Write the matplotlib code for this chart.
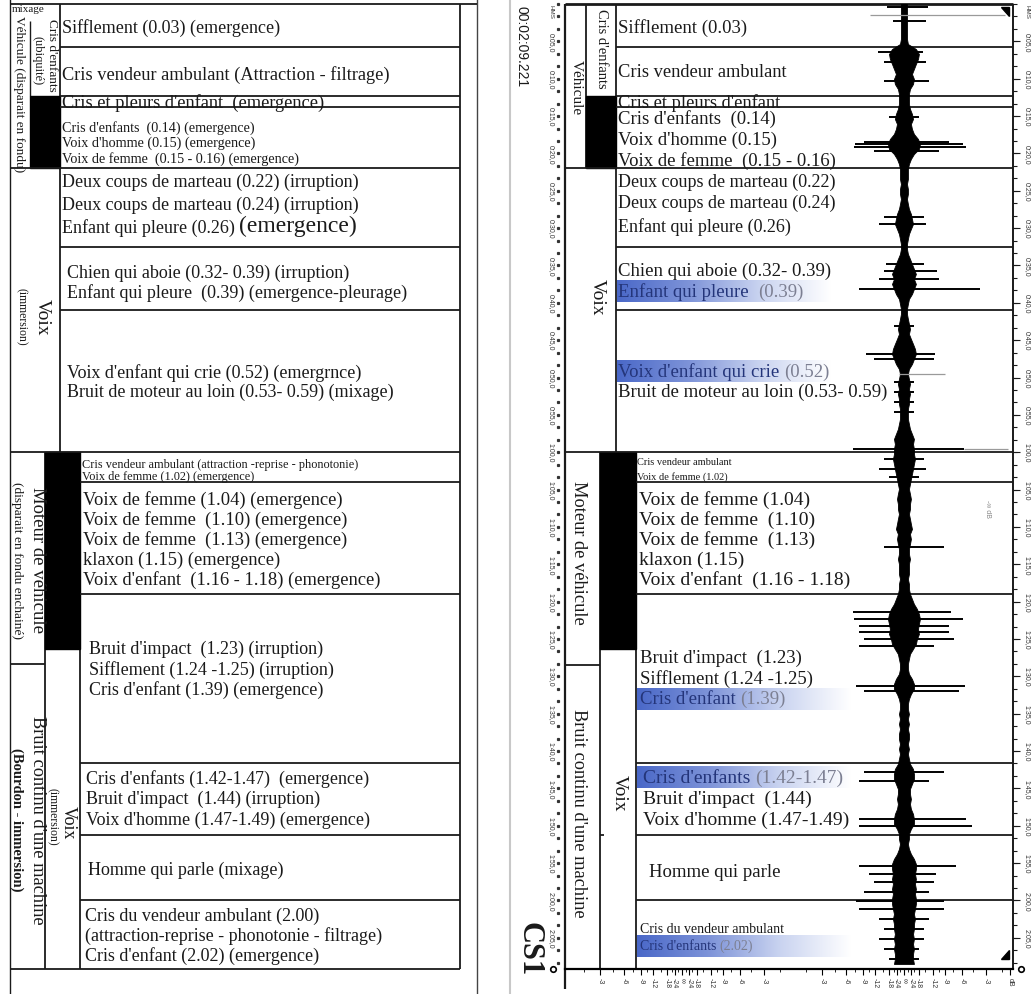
import numpy as np
import matplotlib
matplotlib.use("Agg")
import matplotlib.pyplot as plt
from matplotlib.patches import Rectangle, Polygon
from matplotlib.colors import LinearSegmentedColormap

plt.rcParams['font.family'] = ['Liberation Serif', 'DejaVu Serif']

# --- data -------------------------------------------------------------
duration = 129.2   # 00:02:09.221
bounds = [0, 5.8, 12.3, 13.8, 22, 32.5, 41, 60, 64, 79, 101.6, 111.3, 120, 129.2]
group_bounds = [0, 22, 60, 129.2]
black_top = (12.3, 22)
black_bottom = (60, 86.3)
moteur_end = 88.3

left_rows = [
    ["Sifflement (0.03) (emergence)"],
    ["Cris vendeur ambulant (Attraction - filtrage)"],
    ["Cris et pleurs d'enfant  (emergence)"],
    ["Cris d'enfants  (0.14) (emergence)", "Voix d'homme (0.15) (emergence)",
     "Voix de femme  (0.15 - 0.16) (emergence)"],
    ["Deux coups de marteau (0.22) (irruption)", "Deux coups de marteau (0.24) (irruption)",
     "Enfant qui pleure (0.26) (emergence)"],
    ["Chien qui aboie (0.32- 0.39) (irruption)", "Enfant qui pleure  (0.39) (emergence-pleurage)"],
    ["Voix d'enfant qui crie (0.52) (emergrnce)", "Bruit de moteur au loin (0.53- 0.59) (mixage)"],
    ["Cris vendeur ambulant (attraction -reprise - phonotonie)", "Voix de femme (1.02) (emergence)"],
    ["Voix de femme (1.04) (emergence)", "Voix de femme  (1.10) (emergence)",
     "Voix de femme  (1.13) (emergence)", "klaxon (1.15) (emergence)",
     "Voix d'enfant  (1.16 - 1.18) (emergence)"],
    ["Bruit d'impact  (1.23) (irruption)", "Sifflement (1.24 -1.25) (irruption)",
     "Cris d'enfant (1.39) (emergence)"],
    ["Cris d'enfants (1.42-1.47)  (emergence)", "Bruit d'impact  (1.44) (irruption)",
     "Voix d'homme (1.47-1.49) (emergence)"],
    ["Homme qui parle (mixage)"],
    ["Cris du vendeur ambulant (2.00)", "(attraction-reprise - phonotonie - filtrage)",
     "Cris d'enfant (2.02) (emergence)"],
]

right_rows = [
    ["Sifflement (0.03)"],
    ["Cris vendeur ambulant"],
    ["Cris et pleurs d'enfant"],
    ["Cris d'enfants  (0.14)", "Voix d'homme (0.15)", "Voix de femme  (0.15 - 0.16)"],
    ["Deux coups de marteau (0.22)", "Deux coups de marteau (0.24)", "Enfant qui pleure (0.26)"],
    ["Chien qui aboie (0.32- 0.39)", "Enfant qui pleure  (0.39)"],
    ["Voix d'enfant qui crie (0.52)", "Bruit de moteur au loin (0.53- 0.59)"],
    ["Cris vendeur ambulant", "Voix de femme (1.02)"],
    ["Voix de femme (1.04)", "Voix de femme  (1.10)", "Voix de femme  (1.13)",
     "klaxon (1.15)", "Voix d'enfant  (1.16 - 1.18)"],
    ["Bruit d'impact  (1.23)", "Sifflement (1.24 -1.25)", "Cris d'enfant (1.39)"],
    ["Cris d'enfants (1.42-1.47)", "Bruit d'impact  (1.44)", "Voix d'homme (1.47-1.49)"],
    ["Homme qui parle"],
    ["Cris du vendeur ambulant", "Cris d'enfants (2.02)"],
]
highlighted = [(5, 1), (6, 0), (9, 2), (10, 0), (12, 1)]

# waveform envelope (per-mille of full scale), one value every 0.67 s
env_dt = 0.6694
wave_env = [26, 26, 26, 26, 26, 26, 26, 26, 34, 103,
            129, 121, 103, 86, 69, 86, 78, 52, 43, 43,
            43, 52, 69, 78, 60, 69, 86, 121, 138, 129,
            86, 60, 43, 34, 34, 34, 26, 34, 34, 26,
            34, 43, 60, 69, 78, 60, 43, 34, 26, 26,
            34, 52, 69, 86, 103, 86, 103, 86, 69, 43,
            34, 26, 26, 34, 43, 52, 43, 60, 78, 95,
            103, 86, 69, 43, 34, 43, 52, 43, 52, 43,
            43, 34, 34, 34, 43, 52, 69, 86, 78, 86,
            86, 95, 86, 78, 69, 60, 52, 43, 52, 60,
            52, 52, 43, 52, 60, 69, 52, 60, 52, 43,
            43, 52, 43, 43, 43, 34, 43, 43, 52, 69,
            86, 112, 129, 138, 129, 121, 129, 112, 103, 78,
            52, 43, 34, 34, 43, 69, 86, 86, 60, 43,
            34, 34, 43, 34, 43, 34, 43, 43, 34, 43,
            34, 43, 52, 78, 86, 86, 69, 52, 52, 60,
            52, 60, 78, 86, 86, 60, 43, 43, 34, 43,
            60, 86, 103, 103, 95, 103, 95, 103, 95, 103,
            103, 95, 86, 95, 86, 86, 78, 86, 78, 86,
            78, 78, 86]

# peaks: time (s), negative / positive excursion (per-mille)
spike_t = [0.4, 2.3, 6.4, 7.8, 10.3, 15.1, 18.5, 18.7, 19.1, 19.7, 28.5, 29.5,
           34.8, 35.7, 36.8, 38.2, 43.1, 46.8, 47.5, 50.6, 51.9, 53.3, 54.6, 59.6,
           60.9, 62.2, 63.3, 72.7, 81.4, 82.3, 83.3, 84.1, 85.0, 85.9, 91.3, 92.0,
           102.8, 104.0, 109.1, 110.0, 115.4, 116.5, 117.5, 118.9, 120.1, 121.2,
           122.5, 123.8, 125.2, 126.5, 127.8]
spike_lo = [147, 95, 224, 172, 172, 129, 345, 422, 431, 259, 172, 216,
            155, 172, 216, 388, 86, 328, 259, 86, 86, 86, 86, 440,
            172, 216, 129, 172, 440, 431, 388, 388, 345, 388, 414, 345,
            345, 388, 388, 388, 388, 302, 259, 345, 414, 388,
            216, 172, 216, 172, 129]
spike_hi = [207, 190, 164, 190, 216, 129, 388, 509, 534, 302, 172, 190,
            172, 284, 302, 655, 86, 267, 259, 86, 86, 86, 86, 517,
            172, 190, 129, 345, 405, 509, 388, 388, 431, 259, 526, 474,
            345, 216, 534, 586, 448, 276, 259, 216, 345, 345,
            216, 172, 172, 129, 129]
# faint grey traces
grey_t = [1.5, 49.5, 59.6]
grey_lo = [-290, -40, 517]
grey_hi = [870, 350, 897]

db_marks = [-3, -6, -9, -12, -18, -24]
db_minor = [-1.5, -4.5, -7.5, -10.5, -15, -21, -30]
ruler_times = list(range(5, 126, 5))

# --- figure ----------------------------------------------------------
W, H = 1035, 995
fig = plt.figure(figsize=(W / 100, H / 100), dpi=100)
ax = fig.add_axes([0, 0, 1, 1])
ax.axis('off')
T_TOP, T_BOT = -0.67, 132.53
INK = '#1a1a1a'
SANS = ['Liberation Sans', 'DejaVu Sans']


def hl(t, x0, x1, lw=1.3, color=INK):
    ax.plot([x0, x1], [t, t], color=color, lw=lw, solid_capstyle='butt', zorder=3)


def vl(x, t0, t1, lw=1.3, color=INK):
    ax.plot([x, x], [t0, t1], color=color, lw=lw, solid_capstyle='butt', zorder=3)


def block(x0, x1, span):
    ax.add_patch(Rectangle((x0, span[0]), x1 - x0, span[1] - span[0],
                           facecolor='black', edgecolor='black', zorder=3))


def vtext(x, t, s, fs, **kw):
    ax.text(x, t, s, rotation=-90, ha='center', va='center', fontsize=fs,
            color=INK, rotation_mode='anchor', zorder=4, **kw)


# ---------------- left panel ----------------
vl(10, T_TOP, T_BOT, lw=1.0)
vl(477, T_TOP, T_BOT, lw=1.0, color='#444')
hl(0, 10, 477, lw=1.3)
vl(460, 0, duration)
vl(60, 0, 60)
vl(30, 2.3, black_top[0], lw=1.0)
block(30, 60, black_top)
vl(45, 60, duration)
vl(80, 60, duration)
block(45, 80, black_bottom)
hl(moteur_end, 10, 45)
for b in bounds[1:]:
    if b in group_bounds:
        hl(b, 10, 460)
    elif b < 60:
        hl(b, 60, 460)
    else:
        hl(b, 80, 460)

left_x = [62, 62, 62, 62, 62, 67, 67, 82, 83, 89, 86, 88, 85]
left_y = [[3.1], [9.4], [13.1], [16.5, 18.5, 20.6], [23.8, 26.8, 29.85],
          [35.9, 38.55], [49.3, 51.9], [61.6, 63.2],
          [66.3, 68.9, 71.6, 74.3, 77.0], [86.3, 89.0, 91.7],
          [103.6, 106.4, 109.2], [115.8], [122.0, 124.6, 127.3]]
left_fs = [13, 13.2, 13.2, 10.2, 13, 13, 13, 8.8, 13.3, 13, 13, 13, 13]

for i, lines in enumerate(left_rows):
    for j, s in enumerate(lines):
        y = left_y[i][j]
        if (i, j) == (4, 2):
            head, tail = s.rsplit(' (', 1)
            t1 = ax.text(left_x[i], y, head + ' ', fontsize=left_fs[i], va='center',
                         ha='left', color=INK, zorder=4)
            ax.annotate('(' + tail, xy=(1, 0), xycoords=t1, va='bottom', ha='left',
                        fontsize=17, color=INK, zorder=4)
        else:
            ax.text(left_x[i], y, s, fontsize=left_fs[i], va='center', ha='left',
                    color=INK, zorder=4)

ax.text(12, 0.65, 'mixage', fontsize=8, va='center', ha='left', color=INK)
vtext(19, 11.9, 'Véhicule (disparait en fondu)', 9.5)
vtext(52, 6.8, "Cris d'enfants", 9.5)
vtext(37, 7.4, '(ubiquité)', 9)
vtext(42, 41.8, 'Voix', 14)
vtext(21, 41.8, '(immersion)', 8.5)
vtext(37, 74.3, 'Moteur de véhicule', 13.5)
vtext(17, 74.3, '(disparait en fondu enchainé)', 9.6)
vtext(37, 109.1, "Bruit continu d'une machine", 13.2)
vtext(17, 109.1, '(Bourdon - immersion)', 10.5, fontweight='bold')
vtext(68, 109.4, 'Voix', 13)
vtext(52, 108.7, '(immersion)', 8.5)

# ---------------- right panel ----------------
vl(510, T_TOP, T_BOT, lw=1.5, color='#c8c8c8')
vl(565, 0, 131.8, lw=1.6)
hl(0, 565, 1013, lw=2.0)
vl(1013, 0, duration, lw=1.4)
vl(586, 0, 22)
vl(616, 0, 60)
block(586, 616, black_top)
vl(600, 60, duration)
vl(636, 60, duration)
block(600, 636, black_bottom)
hl(moteur_end + 0.2, 565, 600)
hl(111.3, 600, 604)
for b in bounds[1:-1]:
    if b in group_bounds:
        hl(b, 565, 1013)
    elif b < 60:
        hl(b, 616, 1013)
    else:
        hl(b, 636, 1013)

right_x = [618, 618, 618, 618, 618, 618, 618, 637, 639, 640, 643, 649, 640]
right_y = [[3.1], [9.0], [13.1], [15.3, 18.1, 20.9], [23.7, 26.6, 29.7],
           [35.7, 38.4], [49.1, 51.8], [61.2, 63.2],
           [66.3, 68.9, 71.6, 74.3, 77.0], [87.4, 90.2, 93.0],
           [103.5, 106.3, 109.1], [116.1], [123.8, 126.1]]
right_fs = [13.5, 13.3, 13.3, 13.5, 13, 13.5, 13.5, 7.5, 14, 13.5, 14, 13.5, 10]

hl_cmap = LinearSegmentedColormap.from_list('hl', ['#4a68c8', '#7d93d8', '#c9d3f0', '#ffffff'])
grad = np.linspace(0, 1, 256).reshape(1, -1)

for i, lines in enumerate(right_rows):
    col0 = 616 if i < 7 else 636
    for j, s in enumerate(lines):
        y = right_y[i][j]
        if (i, j) in highlighted:
            ax.imshow(grad, extent=[col0 + 1, col0 + 215, y + 1.45, y - 1.45],
                      cmap=hl_cmap, aspect='auto', zorder=1, interpolation='bicubic')
            head, tail = s.rsplit('(', 1)
            t1 = ax.text(right_x[i], y, head, fontsize=right_fs[i], va='center',
                         ha='left', color='#24357a', zorder=4)
            ax.annotate('(' + tail, xy=(1, 0), xycoords=t1, va='bottom', ha='left',
                        fontsize=right_fs[i], color='#7c7f92', zorder=4)
        else:
            ax.text(right_x[i], y, s, fontsize=right_fs[i], va='center', ha='left',
                    color=INK, zorder=4)

vtext(576, 11.1, 'Véhicule', 11)
vtext(601, 5.9, "Cris d'enfants", 10.5)
vtext(597, 39.1, 'Voix', 14)
vtext(579, 73.4, 'Moteur de véhicule', 13.2)
vtext(579, 108.2, "Bruit continu d'une machine", 13.2)
vtext(619, 105.5, 'Voix', 14)

vtext(522, 5.6, '00:02:09.221', 10, family=SANS)
vtext(529, 126.4, 'CS1', 22, fontweight='bold')

# time rulers
for tt in ruler_times:
    lab = f"{int(tt // 60)}:{tt % 60:04.1f}".replace('.', ',')
    for xx in (551, 1027):
        ax.text(xx, tt, lab, rotation=-90, ha='center', va='center', fontsize=5,
                color='#333', family=SANS)
minor_t = np.arange(0, duration, 5 / 3)
ax.plot(np.full(len(minor_t), 558), minor_t, ls='none', marker='s', ms=1.3, color='#333')
for tt in minor_t:
    hl(tt, 1013, 1017, lw=0.8)
for tt in ruler_times:
    hl(tt, 1013, 1020, lw=0.8)
for xx in (551, 1027):
    ax.text(xx, 0.9, 'HMS', rotation=-90, ha='center', va='center', fontsize=4.5,
            color='#333', family=SANS)
ax.plot([553, 1021], [duration, duration], ls='none', marker='o', ms=4, color='black',
        mfc='white', mew=1.2)
ax.add_patch(Polygon([[1001, 0.35], [1009, 0.35], [1009, 1.6]], color='black', zorder=5))
ax.add_patch(Polygon([[1009, 126.6], [1009, 127.9], [1001, 127.9]], color='black', zorder=5))
ax.text(987, 67.5, '-\u221e dB', rotation=-90, ha='center', va='center', fontsize=5,
        color='#888', family=SANS)

ax.set_xlim(0, W)
ax.set_ylim(T_BOT, T_TOP)

# ---------------- waveform ----------------
axw = fig.add_axes([565 / W, (H - 970) / H, (1013 - 565) / W, 965 / H])
axw.patch.set_alpha(0)
for s in ('top', 'left', 'right'):
    axw.spines[s].set_visible(False)
axw.spines['bottom'].set_linewidth(1.6)

env_t = np.arange(len(wave_env)) * env_dt
amp = np.array(wave_env) / 1000
axw.fill_betweenx(env_t, -amp, amp, color='black', lw=0.6)
axw.hlines(grey_t, np.array(grey_lo) / 1000, np.array(grey_hi) / 1000, color='#9a9a9a', lw=0.9)
axw.hlines(spike_t, -np.array(spike_lo) / 1000, np.array(spike_hi) / 1000,
           color='black', lw=1.4)

centers = [-1.914, 0.0]
ticks, labels, minors = [], [], []
for c in centers:
    for db in db_marks:
        a = 10 ** (db / 20)
        ticks += [c - a, c + a]
        labels += [str(db), str(db)]
    ticks.append(c)
    labels.append('\u221e')
    for db in db_minor:
        a = 10 ** (db / 20)
        minors += [c - a, c + a]
ticks.append(0.914)
labels.append('dB')
axw.set_xticks(ticks)
axw.set_xticklabels(labels, rotation=-90, fontsize=5, color='#333', family=SANS)
axw.set_xticks(minors, minor=True)
axw.tick_params(axis='x', which='major', length=4, width=0.8, pad=2, direction='out')
axw.tick_params(axis='x', which='minor', length=2.5, width=0.6, direction='out')
axw.set_yticks([])
axw.set_xlim(-2.922, 0.94)
axw.set_ylim(duration, 0)

fig.savefig('out.png', dpi=100)
